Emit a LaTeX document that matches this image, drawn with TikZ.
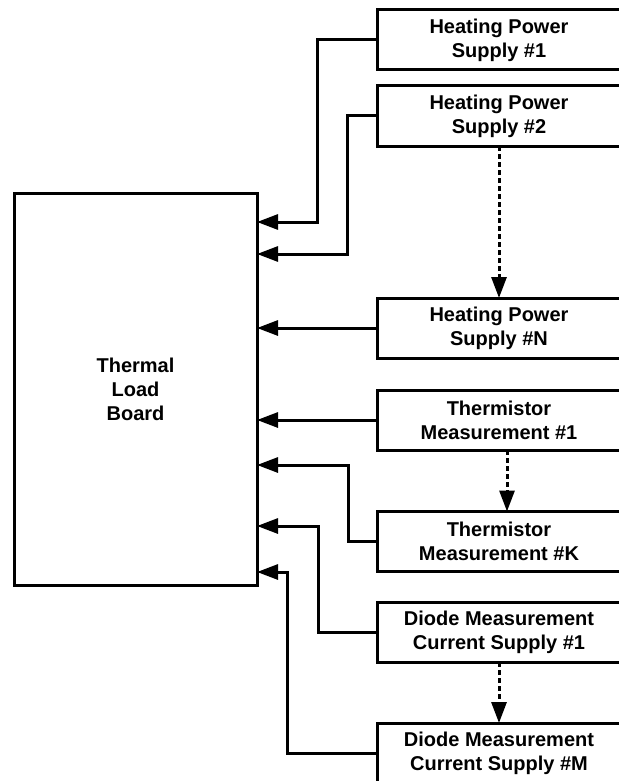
\documentclass[tikz,border=0pt]{standalone}
\usepackage{fontspec}
\setmainfont{Liberation Sans}
\usepackage{tikz}
\usetikzlibrary{arrows.meta, positioning}
\tikzstyle{board} = [rectangle, minimum width=243pt, minimum height=392pt, text centered, align=center, draw=black, line width=3pt, outer sep=0pt, font=\fontsize{20}{24}\selectfont\bfseries]
\tikzstyle{source} = [rectangle, minimum width=244pt, minimum height=60pt, text centered, align=center, draw=black, line width=3pt, outer sep=0pt, font=\fontsize{20}{24}\selectfont\bfseries]
\tikzstyle{arrow} = [line width=3pt, -{Triangle[length=21pt,width=15pt]}]
\tikzstyle{moreof} = [arrow, dash pattern=on 5pt off 3pt]

\begin{document}
\begin{tikzpicture}[node distance=16pt]
  \useasboundingbox (0,0) rectangle (618pt,-781pt);
  \node (tlb) [board] at (135.5pt,-389pt) {Thermal\\Load\\Board};
  \node (hps1) [source] at (499pt,-40pt) {Heating Power\\Supply \#1};
  \node (hps2) [source, below=of hps1] {Heating Power\\Supply \#2};
  \node (hpsN) [source, below=152pt of hps2] {Heating Power\\Supply \#N};
  \node (tm1) [source, below=32pt of hpsN] {Thermistor\\Measurement \#1};
  \node (tmK) [source, below=61.5pt of tm1] {Thermistor\\Measurement \#K};
  \node (dm1) [source, below=30.5pt of tmK] {Diode Measurement\\Current Supply \#1};
  \node (dmM) [source, below=61pt of dm1] {Diode Measurement\\Current Supply \#M};

  % feeds into the board
  \draw[arrow] (hps1.west) -- ++(-60pt,0) |- ([yshift=-29pt]tlb.north east);
  \draw[arrow] (hps2.west) -- ++(-30pt,0) |- ([yshift=-61pt]tlb.north east);
  \draw[arrow] (hpsN.west) -- (hpsN.west -| tlb.east);
  \draw[arrow] (tm1.west) -- (tm1.west -| tlb.east);
  \draw[arrow] (tmK.west) -- ++(-29pt,0) |- ([yshift=-272pt]tlb.north east);
  \draw[arrow] (dm1.west) -- ++(-59pt,0) |- ([yshift=-333pt]tlb.north east);
  \draw[arrow] (dmM.west) -- ++(-90pt,0) |- ([yshift=-379pt]tlb.north east);

  % more of the same kind
  \draw[moreof] (hps2.south) -- (hpsN.north);
  \draw[moreof] ([xshift=8pt]tm1.south) -- ([xshift=8pt]tmK.north);
  \draw[moreof] (dm1.south) -- (dmM.north);
\end{tikzpicture}
\end{document}
